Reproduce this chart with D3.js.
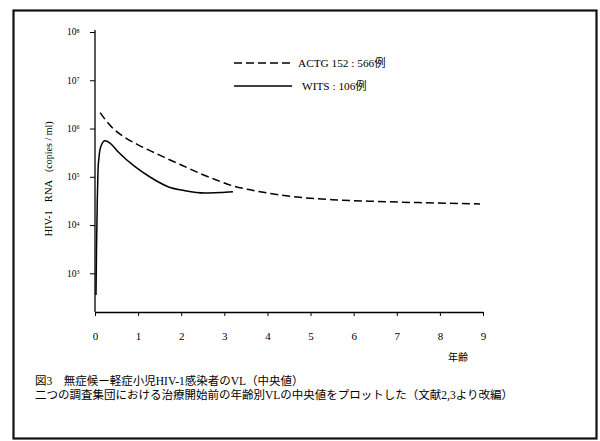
<!DOCTYPE html>
<html>
<head>
<meta charset="utf-8">
<script src="https://cdn.jsdelivr.net/npm/d3@7"></script>
<style>
  html, body { margin: 0; padding: 0; background: #fff; }
  svg { display: block; }
  text { font-family: "Liberation Serif", "Noto Sans CJK JP", serif; fill: #000; }
</style>
</head>
<body>
<svg id="chart" width="600" height="441"></svg>
<script>
// ---- data ----
const xTicks = [0, 1, 2, 3, 4, 5, 6, 7, 8, 9];
const yTickExp = [3, 4, 5, 6, 7, 8];
const actgAge = [0.12, 0.25, 0.42, 0.7, 1.0, 1.3, 1.6, 2.0, 2.45, 2.8, 3.2, 3.6, 4.0, 4.75, 5.5, 6.5, 7.5, 8.93];
const actgVL  = [2138000, 1479000, 1000000, 650000, 460000, 340000, 255000, 176000, 116000, 87100, 64600, 53700, 46200, 37600, 33500, 30900, 29200, 27400];
const witsAge = [0.023, 0.035, 0.053, 0.070, 0.093, 0.139, 0.232, 0.348, 0.534, 0.928, 1.276, 1.694, 2.088, 2.552, 2.90, 3.20];
const witsVL  = [356, 3050, 33100, 138000, 257000, 434000, 560000, 501000, 331000, 162000, 99000, 62400, 51500, 46200, 47300, 49200];
const legendLabels = ["ACTG 152 : 566例", "WITS : 106例"];
const xAxisTitle = "年齢";
const yAxisTitleParts = ["HIV-1", "RNA", "(copies / ml)"];
const caption1 = "図3　無症候ー軽症小児HIV-1感染者のVL（中央値）";
const caption2 = "二つの調査集団における治療開始前の年齢別VLの中央値をプロットした（文献2,3より改編）";

const svg = d3.select("#chart");

// frame
svg.append("rect").attr("x", 13.5).attr("y", 10.5).attr("width", 583).attr("height", 428)
  .attr("fill", "none").attr("stroke", "#111").attr("stroke-width", 2.2);

const x = d3.scaleLinear().domain([0, 9]).range([95, 483]);
const y = d3.scaleLog().domain([158, 1e8]).range([312, 32]);

// x axis
const xAxis = svg.append("g").attr("transform", "translate(0,312)")
  .call(d3.axisBottom(x).tickValues(xTicks).tickSizeInner(4).tickSizeOuter(0).tickFormat(d3.format("d")).tickPadding(16));
xAxis.select(".domain").attr("stroke", "#000").attr("stroke-width", 1.3);
xAxis.selectAll(".tick line").attr("stroke", "#000");
xAxis.selectAll(".tick text").style("font-size", "11px").style("font-family", "Liberation Serif");

// y axis
const yAxis = svg.append("g").attr("transform", "translate(95,0)")
  .call(d3.axisLeft(y).tickValues(yTickExp.map(e => Math.pow(10, e))).tickSizeInner(5).tickSizeOuter(0).tickFormat(""));
yAxis.select(".domain").attr("stroke", "#000").attr("stroke-width", 1.3)
  .attr("d", `M0,${y.range()[0]}V${y.range()[1] - 2}`);
yAxis.selectAll(".tick line").attr("stroke", "#000");
yAxis.selectAll(".tick").each(function(d, i) {
  const t = d3.select(this).append("text").attr("x", -28).attr("dy", "0.3em")
    .attr("text-anchor", "start").style("font-size", "9.5px");
  t.append("tspan").text("10");
  t.append("tspan").attr("dy", "-0.45em").style("font-size", "6px").text(yTickExp[i]);
});

// y title
const yt = svg.append("text").attr("transform", "translate(52,179) rotate(-90)")
  .attr("text-anchor", "middle").style("font-size", "10.5px");
yt.append("tspan").text(yAxisTitleParts[0]);
yt.append("tspan").attr("dx", 8).text(yAxisTitleParts[1]);
yt.append("tspan").attr("dx", 8).style("font-size", "10px").text(yAxisTitleParts[2]);

// x title
svg.append("text").attr("x", 458).attr("y", 361).attr("text-anchor", "middle")
  .style("font-size", "10px").text(xAxisTitle);

// lines
const line = d3.line().x(d => x(d[0])).y(d => y(d[1])).curve(d3.curveMonotoneX);
svg.append("path").datum(actgAge.map((a, i) => [a, actgVL[i]]))
  .attr("d", line).attr("fill", "none").attr("stroke", "#000").attr("stroke-width", 1.5)
  .attr("stroke-dasharray", "8,4");
svg.append("path").datum(witsAge.map((a, i) => [a, witsVL[i]]))
  .attr("d", line).attr("fill", "none").attr("stroke", "#000").attr("stroke-width", 1.5);

// legend
const lg = [
  {y: 63, dash: "8,4", tx: 298},
  {y: 86, dash: null, tx: 302}
];
lg.forEach((l, i) => {
  svg.append("line").attr("x1", 234).attr("x2", 292).attr("y1", l.y).attr("y2", l.y)
    .attr("stroke", "#000").attr("stroke-width", 1.5)
    .attr("stroke-dasharray", l.dash);
  svg.append("text").attr("x", l.tx).attr("y", l.y + 4).style("font-size", "11.3px").text(legendLabels[i]);
});

// caption
svg.append("text").attr("x", 35).attr("y", 385).style("font-size", "11.5px").text(caption1);
svg.append("text").attr("x", 35).attr("y", 399).style("font-size", "11.5px").text(caption2);
</script>
</body>
</html>
